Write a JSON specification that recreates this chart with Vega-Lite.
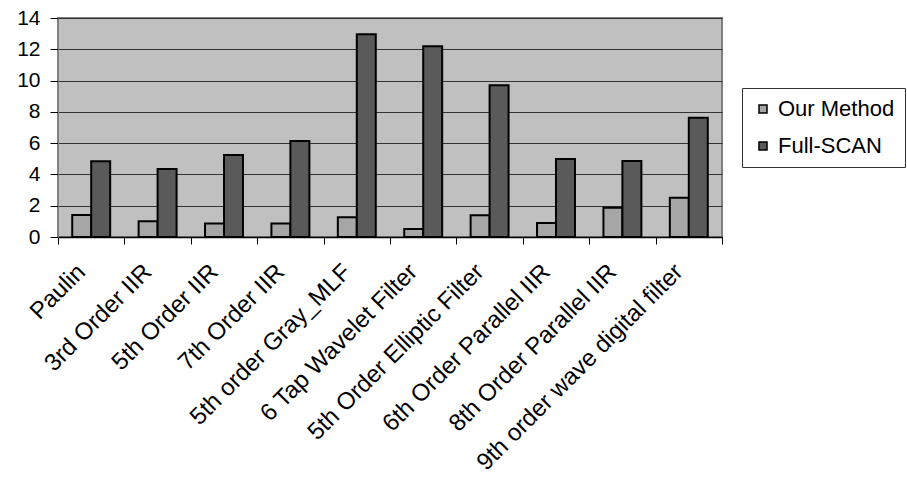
{
  "$schema": "https://vega.github.io/schema/vega-lite/v6.json",
  "width": 664,
  "height": 219,
  "autosize": {"type": "none"},
  "padding": {"left": 58, "top": 18, "right": 185, "bottom": 245},
  "background": "white",
  "config": {
    "font": "Liberation Sans",
    "view": {"fill": "#C0C0C0", "stroke": "#808080", "strokeWidth": 2}
  },
  "data": {
    "values": [
      {"circuit": "Paulin", "method": "Our Method", "value": 1.4},
      {"circuit": "Paulin", "method": "Full-SCAN", "value": 4.85},
      {"circuit": "3rd Order IIR", "method": "Our Method", "value": 1.0},
      {"circuit": "3rd Order IIR", "method": "Full-SCAN", "value": 4.35},
      {"circuit": "5th Order IIR", "method": "Our Method", "value": 0.87},
      {"circuit": "5th Order IIR", "method": "Full-SCAN", "value": 5.24},
      {"circuit": "7th Order IIR", "method": "Our Method", "value": 0.87},
      {"circuit": "7th Order IIR", "method": "Full-SCAN", "value": 6.14},
      {"circuit": "5th order Gray_MLF", "method": "Our Method", "value": 1.26},
      {"circuit": "5th order Gray_MLF", "method": "Full-SCAN", "value": 12.96},
      {"circuit": "6 Tap Wavelet Filter", "method": "Our Method", "value": 0.51},
      {"circuit": "6 Tap Wavelet Filter", "method": "Full-SCAN", "value": 12.2},
      {"circuit": "5th Order Elliptic Filter", "method": "Our Method", "value": 1.39},
      {"circuit": "5th Order Elliptic Filter", "method": "Full-SCAN", "value": 9.7},
      {"circuit": "6th Order Parallel IIR", "method": "Our Method", "value": 0.9},
      {"circuit": "6th Order Parallel IIR", "method": "Full-SCAN", "value": 4.99},
      {"circuit": "8th Order Parallel IIR", "method": "Our Method", "value": 1.87},
      {"circuit": "8th Order Parallel IIR", "method": "Full-SCAN", "value": 4.86},
      {"circuit": "9th order wave digital filter", "method": "Our Method", "value": 2.51},
      {"circuit": "9th order wave digital filter", "method": "Full-SCAN", "value": 7.63}
    ]
  },
  "mark": {"type": "bar", "stroke": "black", "strokeWidth": 2},
  "encoding": {
    "x": {
      "field": "circuit",
      "type": "nominal",
      "sort": null,
      "title": null,
      "scale": {"paddingInner": 0, "paddingOuter": 0},
      "axis": {
        "tickBand": "extent",
        "labelAngle": -45,
        "labelAlign": "right",
        "labelBaseline": "middle",
        "labelFontSize": 24,
        "labelColor": "black",
        "labelPadding": 24,
        "labelOffset": -10,
        "labelLimit": 400,
        "domainColor": "black",
        "domainWidth": 1.5,
        "tickColor": "black",
        "tickSize": 7,
        "grid": false
      }
    },
    "xOffset": {
      "field": "method",
      "type": "nominal",
      "sort": ["Our Method", "Full-SCAN"],
      "scale": {"paddingInner": 0, "paddingOuter": 0.75}
    },
    "y": {
      "field": "value",
      "type": "quantitative",
      "title": null,
      "scale": {"domain": [0, 14], "nice": false},
      "axis": {
        "values": [0, 2, 4, 6, 8, 10, 12, 14],
        "labelFontSize": 21,
        "labelColor": "black",
        "labelPadding": 10,
        "tickColor": "black",
        "tickSize": 8,
        "domainColor": "#808080",
        "gridColor": "#333333",
        "gridWidth": 1
      }
    },
    "color": {
      "field": "method",
      "type": "nominal",
      "sort": ["Our Method", "Full-SCAN"],
      "scale": {"domain": ["Our Method", "Full-SCAN"], "range": ["#A6A6A6", "#5A5A5A"]},
      "legend": {
        "title": null,
        "orient": "none",
        "legendX": 684,
        "legendY": 70,
        "symbolType": "square",
        "symbolSize": 64,
        "symbolStrokeColor": "black",
        "symbolStrokeWidth": 1.5,
        "labelFontSize": 22,
        "labelColor": "black",
        "labelOffset": 4,
        "rowPadding": 15,
        "padding": 10,
        "strokeColor": "#333333",
        "fillColor": "white"
      }
    }
  }
}
